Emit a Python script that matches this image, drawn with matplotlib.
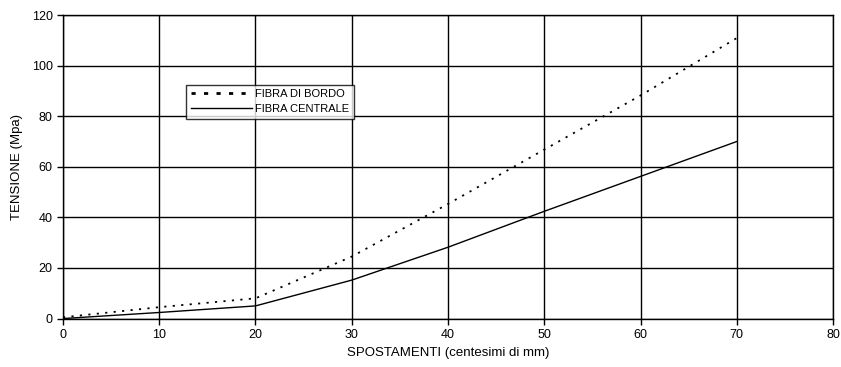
import matplotlib
matplotlib.use("Agg")
import matplotlib.pyplot as plt

plt.rcParams['font.family'] = ['Liberation Sans', 'DejaVu Sans']

spostamenti = [0, 10, 20, 30, 40, 50, 60, 70]
fibra_bordo = [0.5, 4.5, 8.0, 24.5, 45.3, 66.8, 88.2, 110.9]
fibra_centrale = [0.0, 2.4, 5.0, 15.2, 28.2, 42.4, 56.2, 70.0]

fig = plt.figure(figsize=(8.41, 3.67), dpi=100)
ax = fig.add_axes([0.0749, 0.132, 0.9156, 0.827])

ax.plot(spostamenti, fibra_bordo, color='black', linestyle=(0, (1.2, 3.5)),
        linewidth=1.3, label="FIBRA DI BORDO")
ax.plot(spostamenti, fibra_centrale, color='black', linestyle='-',
        linewidth=1.0, label="FIBRA CENTRALE")

ax.set_xlim(0, 80)
ax.set_ylim(0, 120)
ax.set_xticks(range(0, 81, 10))
ax.set_yticks(range(0, 121, 20))
ax.grid(True, color='black', linewidth=1.0)
ax.set_axisbelow(True)
for s in ax.spines.values():
    s.set_color('black')
    s.set_linewidth(1.0)
ax.tick_params(direction='out', length=4, width=1, labelsize=9, colors='black')

ax.set_xlabel("SPOSTAMENTI (centesimi di mm)", fontsize=9.5, labelpad=4)
ax.set_ylabel("TENSIONE (Mpa)", fontsize=9.5, labelpad=6)

leg = ax.legend(loc='upper left', bbox_to_anchor=(0.16, 0.77), fontsize=8,
                frameon=True, fancybox=False, borderpad=0.4, handlelength=5.5,
                labelspacing=0.45, handletextpad=0.3, borderaxespad=0)
leg.legend_handles[0].set_linestyle((0, (1.5, 3.0)))
leg.legend_handles[0].set_linewidth(2.0)
leg.get_frame().set_edgecolor('black')
leg.get_frame().set_linewidth(1.0)

fig.savefig("out.png", dpi=100)
